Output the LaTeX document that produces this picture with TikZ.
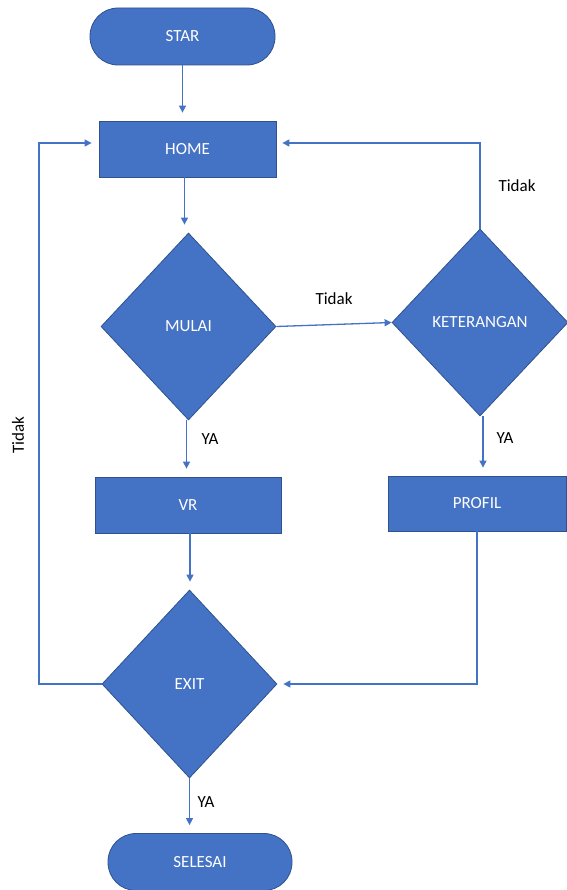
\documentclass[tikz,border=0pt]{standalone}
\usepackage{fontspec}
\setmainfont{Carlito}
\usetikzlibrary{shapes.geometric,arrows.meta}
\definecolor{birumuda}{HTML}{4472C4}
\definecolor{birutua}{HTML}{2F528F}
\tikzset{
	kotak/.style={draw=birutua, fill=birumuda, text=white, line width=0.8pt, font=\fontsize{17}{20}\selectfont},
	terminal/.style={kotak, rounded corners=28pt, minimum width=185pt, minimum height=57pt},
	proses/.style={kotak, minimum height=56pt},
	keputusan/.style={kotak, diamond, inner sep=0pt, minimum width=175pt, minimum height=187pt},
	panah/.style={draw=birumuda, line width=1.3pt, -{Triangle[width=7pt,length=7pt]}, shorten >=8pt},
	tulisan/.style={text=black, font=\fontsize{17}{20}\selectfont}
}

\begin{document}
\begin{tikzpicture}[x=1pt, y=-1pt]
		%%%%% START %%%%%
		\useasboundingbox (0, 0) rectangle (566, 890);
		
		\node[terminal] (star) at (182.5, 36.5) {STAR};
		\node[proses, minimum width=177pt] (home) at (187.5, 149) {HOME};
		\node[keputusan] (mulai) at (188.5, 326.5) {MULAI};
		\node[keputusan, minimum width=176pt] (ket) at (480, 322.5) {KETERANGAN};
		\node[proses, minimum width=186pt] (vr) at (188, 505) {VR};
		\node[proses, minimum width=178pt, minimum height=55pt] (profil) at (477, 503.5) {PROFIL};
		\node[keputusan, minimum height=188pt] (exit) at (189.5, 684) {EXIT};
		\node[terminal, minimum width=184pt] (selesai) at (200, 862) {SELESAI};
		
		% jalur utama
		\draw[panah] (star.south) -- (star.south |- home.north);
		\draw[panah] ([xshift=-3pt]home.south) -- ([xshift=-3pt]home.south |- mulai.north);
		\draw[panah] ([xshift=-2pt]mulai.south) -- ([xshift=-2pt]mulai.south |- vr.north);
		\draw[panah] ([xshift=2pt]vr.south) -- ([xshift=2pt]vr.south |- exit.north);
		\draw[panah] (exit.south) -- (exit.south |- selesai.north);
		
		% cabang kanan
		\draw[panah, shorten >=0pt] (mulai.east) -- (ket.west);
		\draw[panah, shorten >=6pt] (ket.north) |- ([yshift=6pt]home.east);
		\draw[panah] ([xshift=3pt]ket.south) -- ([xshift=3pt]ket.south |- profil.north);
		\draw[panah, shorten >=6pt] (profil.south) |- (exit.east);
		
		% kembali ke home
		\coordinate (kiri) at (39, 684);
		\draw[panah, shorten >=7pt] (exit.west) -- (kiri) |- ([yshift=6pt]home.west);
		
		\node[tulisan] (t1) at (334, 299) {Tidak};
		\node[tulisan] (t2) at (517, 186) {Tidak};
		\node[tulisan, rotate=90] (t3) at (18, 435) {Tidak};
		\node[tulisan] (y1) at (210, 439) {YA};
		\node[tulisan] (y2) at (505, 438) {YA};
		\node[tulisan] (y3) at (206, 802) {YA};
		
		%%%%% END %%%%%
	\end{tikzpicture}
\end{document}
